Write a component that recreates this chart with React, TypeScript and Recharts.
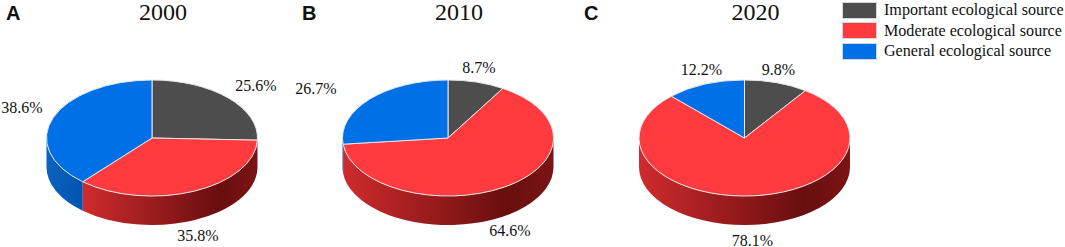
import { Legend, Pie, PieChart } from 'recharts';

const W = 1065;
const H = 247;
const SERIF = '"Liberation Serif", serif';

const sources = ['Important ecological source', 'Moderate ecological source', 'General ecological source'];
const colors = ['#4d4d4d', '#ff3b3f', '#0070e6'];
const wallIds = ['wall-grey', 'wall-red', 'wall-blue'];

const years = ['2000', '2010', '2020'];
const letters = ['A', 'B', 'C'];
const values2000 = [25.6, 35.8, 38.6];
const values2010 = [8.7, 64.6, 26.7];
const values2020 = [9.8, 78.1, 12.2];

const RX = 105.5;
const SQUASH = 0.55;
const DEPTH = 29;
const RAD = Math.PI / 180;

// pie centres and label nudges, label text is centred on centre + offset
const centers = [152, 448, 744.5];
const CY = 138;
const letterX = [6, 302, 584];
const labelOffsets = [
  [[104, -53], [46, 97], [-130, -31]],
  [[31, -71], [62, 92], [-132, -50]],
  [[34, -69], [8, 102], [-43, -69]]
];

const toRows = (values: number[]) =>
  values.map((value, i) => ({ name: sources[i], value, fill: colors[i], wall: wallIds[i] }));

const rows2000 = toRows(values2000);
const rows2010 = toRows(values2010);
const rows2020 = toRows(values2020);
const panels = [rows2000, rows2010, rows2020];

// squashed sector plus the visible part of its side wall
function SliceShape (props: any) {
  const { cx, cy, startAngle, endAngle, outerRadius, fill, wall } = props;
  const rx = outerRadius;
  const ry = outerRadius * SQUASH;
  const px = (a: number) => cx + rx * Math.cos(a * RAD);
  const py = (a: number) => cy - ry * Math.sin(a * RAD);
  const large = Math.abs(startAngle - endAngle) > 180 ? 1 : 0;
  const top = `M${cx},${cy} L${px(startAngle)},${py(startAngle)} A${rx},${ry} 0 ${large} 1 ${px(endAngle)},${py(endAngle)} Z`;

  // front of the disc is -180..0 as the pie runs 90 down to -270
  const from = Math.min(startAngle, 0);
  const to = Math.max(endAngle, -180);
  let side = null;
  if (from > to) {
    const d =
      `M${px(from)},${py(from)} A${rx},${ry} 0 0 1 ${px(to)},${py(to)} ` +
      `L${px(to)},${py(to) + DEPTH} A${rx},${ry} 0 0 0 ${px(from)},${py(from) + DEPTH} Z`;
    side = <path d={d} fill={`url(#${wall})`} />;
  }

  return (
    <g>
      {side}
      <path d={top} fill={fill} stroke="#e6e6e6" strokeWidth={1} />
    </g>
  );
}

const makeLabel = (panel: number) => (props: any) => {
  const { cx, cy, index, value } = props;
  const [dx, dy] = labelOffsets[panel][index];
  return (
    <text
      x={cx + dx}
      y={cy + dy}
      textAnchor="middle"
      dominantBaseline="central"
      fontFamily={SERIF}
      fontSize={16}
      fill="#111"
    >
      {value}%
    </text>
  );
};

function SourceLegend () {
  return (
    <div style={{ fontFamily: SERIF, fontSize: 16.1, color: '#111' }}>
      {sources.map((name, i) => (
        <div key={name} style={{ display: 'flex', alignItems: 'center', height: 20.5 }}>
          <span
            style={{
              width      : 35,
              height     : 17,
              background : colors[i],
              border     : '1px solid #cfd8e0',
              boxSizing  : 'border-box',
              marginRight: 7,
              flex       : 'none'
            }}
          />
          <span style={{ whiteSpace: 'nowrap' }}>{name}</span>
        </div>
      ))}
    </div>
  );
}

export default function App () {
  return (
    <div style={{ position: 'absolute', left: 0, top: 0, width: W, height: H, background: '#fff' }}>
      <PieChart width={W} height={H} margin={{ top: 0, right: 0, bottom: 0, left: 0 }}>
        <defs>
          <linearGradient id="wall-grey" x1="0" y1="0" x2="1" y2="0">
            <stop offset="0" stopColor="#555" />
            <stop offset="1" stopColor="#333" />
          </linearGradient>
          <linearGradient id="wall-red" x1="0" y1="0" x2="1" y2="0">
            <stop offset="0" stopColor="#cf2b2d" />
            <stop offset="0.78" stopColor="#690e0e" />
            <stop offset="1" stopColor="#7b1414" />
          </linearGradient>
          <linearGradient id="wall-blue" x1="0" y1="0" x2="1" y2="0">
            <stop offset="0" stopColor="#0b62bf" />
            <stop offset="1" stopColor="#0054b0" />
          </linearGradient>
        </defs>
        {panels.map((rows, i) => (
          <Pie
            key={years[i]}
            data={rows}
            dataKey="value"
            nameKey="name"
            cx={centers[i]}
            cy={CY}
            outerRadius={RX}
            startAngle={90}
            endAngle={-270}
            shape={SliceShape}
            label={makeLabel(i)}
            labelLine={false}
            isAnimationActive={false}
          />
        ))}
        {years.map((year, i) => (
          <text
            key={year}
            x={centers[i] + 11}
            y={20}
            textAnchor="middle"
            fontFamily={SERIF}
            fontSize={24}
            fill="#111"
          >
            {year}
          </text>
        ))}
        {letters.map((letter, i) => (
          <text
            key={letter}
            x={letterX[i]}
            y={20}
            fontFamily='"Liberation Sans", sans-serif'
            fontWeight="bold"
            fontSize={20}
            fill="#111"
          >
            {letter}
          </text>
        ))}
        <Legend
          layout="vertical"
          content={<SourceLegend />}
          wrapperStyle={{ position: 'absolute', left: 842, top: 0, width: 223, bottom: 'auto' }}
        />
      </PieChart>
    </div>
  );
}
